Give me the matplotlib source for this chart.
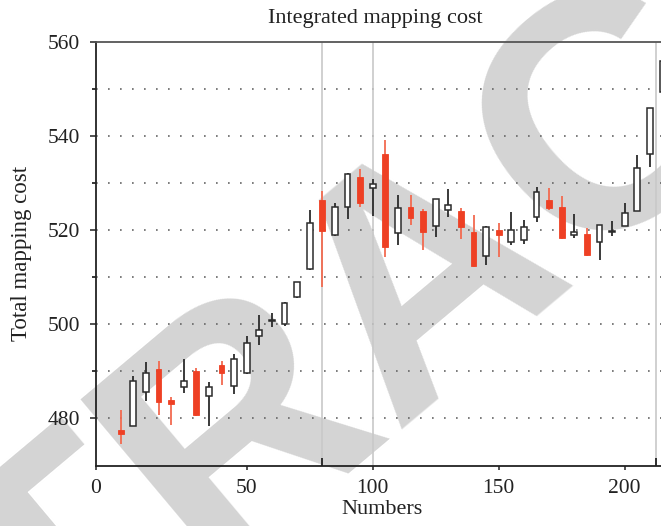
import matplotlib
matplotlib.use('Agg')
import matplotlib.pyplot as plt
from matplotlib.ticker import FixedLocator

# ---------------- data ----------------
positions = [0, 5, 10, 15, 20, 25, 30, 35, 40, 45, 50, 55, 60, 65, 70, 75, 80, 85,
             90, 95, 100, 105, 110, 115, 120, 125, 130, 135, 140, 145, 150, 155,
             160, 165, 170, 175, 180, 185, 190, 195, 200, 205, 210, 215]
opens = [477.5, 478.4, 485.7, 490.6, 484.0, 486.6, 490.1, 484.7, 491.4, 487.0,
         489.7, 497.5, 500.8, 500.0, 505.9, 511.7, 526.5, 519.0, 524.9, 531.3,
         528.9, 536.3, 519.5, 524.9, 524.0, 520.9, 524.4, 524.1, 519.7, 514.5,
         520.0, 517.5, 517.9, 522.8, 526.5, 524.9, 519.0, 519.3, 517.5, 519.6,
         521.0, 524.1, 536.3, 549.4]
highs = [481.7, 489.1, 491.9, 492.3, 484.5, 492.6, 490.7, 487.7, 492.3, 493.8,
         497.6, 502.0, 502.5, 504.7, 509.1, 524.3, 528.4, 525.7, 532.1, 533.1,
         530.9, 539.1, 527.4, 527.4, 524.6, 526.6, 528.8, 524.7, 523.2, 520.9,
         521.6, 523.9, 522.1, 529.2, 529.0, 527.2, 523.4, 520.4, 521.2, 522.0,
         525.8, 536.0, 546.0, 556.5]
lows = [474.5, 478.4, 483.8, 480.8, 478.7, 485.4, 480.6, 478.3, 487.2, 485.1,
        489.4, 495.6, 499.4, 499.7, 505.7, 511.6, 508.0, 518.8, 522.4, 525.0,
        523.1, 514.3, 516.9, 521.1, 515.7, 518.6, 522.9, 518.1, 512.2, 512.6,
        514.4, 516.8, 517.0, 521.8, 524.4, 518.2, 518.4, 514.5, 513.6, 518.7,
        521.0, 524.1, 533.5, 549.0]
closes = [476.8, 488.0, 489.6, 483.4, 483.1, 487.9, 480.8, 486.6, 489.6, 492.7,
          496.1, 498.7, 501.0, 504.5, 508.9, 521.5, 519.9, 525.0, 531.9, 525.7,
          529.9, 516.4, 524.7, 522.5, 519.7, 526.6, 525.4, 520.7, 512.4, 520.6,
          518.9, 520.0, 520.6, 528.1, 524.8, 518.4, 519.6, 514.8, 521.2, 519.8,
          523.7, 533.3, 545.9, 556.0]
marker_lines = [80, 100, 212.5]
xtick_labels = ['0', '50', '100', '150', '200']
ytick_values = [480, 500, 520, 540, 560]

# ---------------- style ----------------
RED = '#EE4024'
RED_WICK = '#F26A50'
DARK = '#2b2b2b'
SERIF = ['Liberation Serif', 'DejaVu Serif']

fig = plt.figure(figsize=(6.61, 5.26), dpi=100)
fig.patch.set_facecolor('white')

# watermark behind everything
fig.text(483 / 661, 1 - 342 / 526, 'RETRACTED', rotation=40, rotation_mode='anchor',
         ha='center', va='baseline', fontsize=240, color='#D4D4D4',
         family=['Liberation Sans', 'DejaVu Sans'], weight='bold', zorder=-5)

ax = fig.add_axes([0.1448, 0.115, 0.8688, 0.8052])
ax.set_facecolor('none')

x_left = -9.92
ax.set_xlim(x_left, 217.97)
ax.set_ylim(470, 560)

# grid (dotted) every 10
for gy in range(480, 560, 10):
    ax.axhline(gy, color='#666666', lw=1.2, dashes=(1, 6.2), zorder=1)

for mx in marker_lines:
    ax.axvline(mx, color='#C8C8C8', lw=1.2, zorder=1)

w = 2.3
for xi, o, h, l, c in zip(positions, opens, highs, lows, closes):
    if c >= o:
        ax.vlines(xi, l, h, color=DARK, lw=1.3, zorder=2)
        ax.bar(xi, max(c - o, 0.15), bottom=o, width=w, facecolor='white',
               edgecolor=DARK, lw=1.1, zorder=3)
    else:
        ax.vlines(xi, l, h, color=RED_WICK, lw=1.3, zorder=2)
        ax.bar(xi, o - c, bottom=c, width=w, facecolor=RED,
               edgecolor=RED, lw=0.6, zorder=3)

# spines
ax.spines['right'].set_visible(False)
ax.spines['top'].set_color('#555555')
ax.spines['top'].set_linewidth(1.3)
ax.spines['left'].set_color('#222222')
ax.spines['left'].set_linewidth(1.3)
ax.spines['bottom'].set_color('#222222')
ax.spines['bottom'].set_linewidth(1.3)

# ticks
ax.xaxis.set_major_locator(FixedLocator([x_left, 50, 100, 150, 200]))
ax.set_xticklabels(xtick_labels)
ax.xaxis.set_minor_locator(FixedLocator(marker_lines))
ax.tick_params(axis='x', which='major', direction='out', length=3, width=1.1,
               pad=7, labelsize=15.5, colors='#222222')
ax.tick_params(axis='x', which='minor', direction='in', length=5.5, width=1.3,
               colors='#222222')
ax.set_yticks(ytick_values)
ax.yaxis.set_minor_locator(FixedLocator([490, 510, 530, 550]))
ax.tick_params(axis='y', which='major', direction='out', length=4.5, width=1.1,
               pad=7, labelsize=15.5, colors='#222222')
ax.tick_params(axis='y', which='minor', direction='out', length=3, width=1.1)
ax.tick_params(top=False, right=False, which='both')
for lab in ax.get_xticklabels() + ax.get_yticklabels():
    lab.set_family(SERIF)

fig.text(375 / 661, 1 - 18 / 526, 'Integrated mapping cost', ha='center',
         va='center', fontsize=16, family=SERIF, color='#222222')
fig.text(382 / 661, 1 - 510 / 526, 'Numbers', ha='center', va='center',
         fontsize=16, family=SERIF, color='#222222')
fig.text(22 / 661, 1 - 253 / 526, 'Total mapping cost', ha='center',
         va='center', rotation=90, fontsize=16.5, family=SERIF, color='#222222')

fig.savefig('out.png', dpi=100)
